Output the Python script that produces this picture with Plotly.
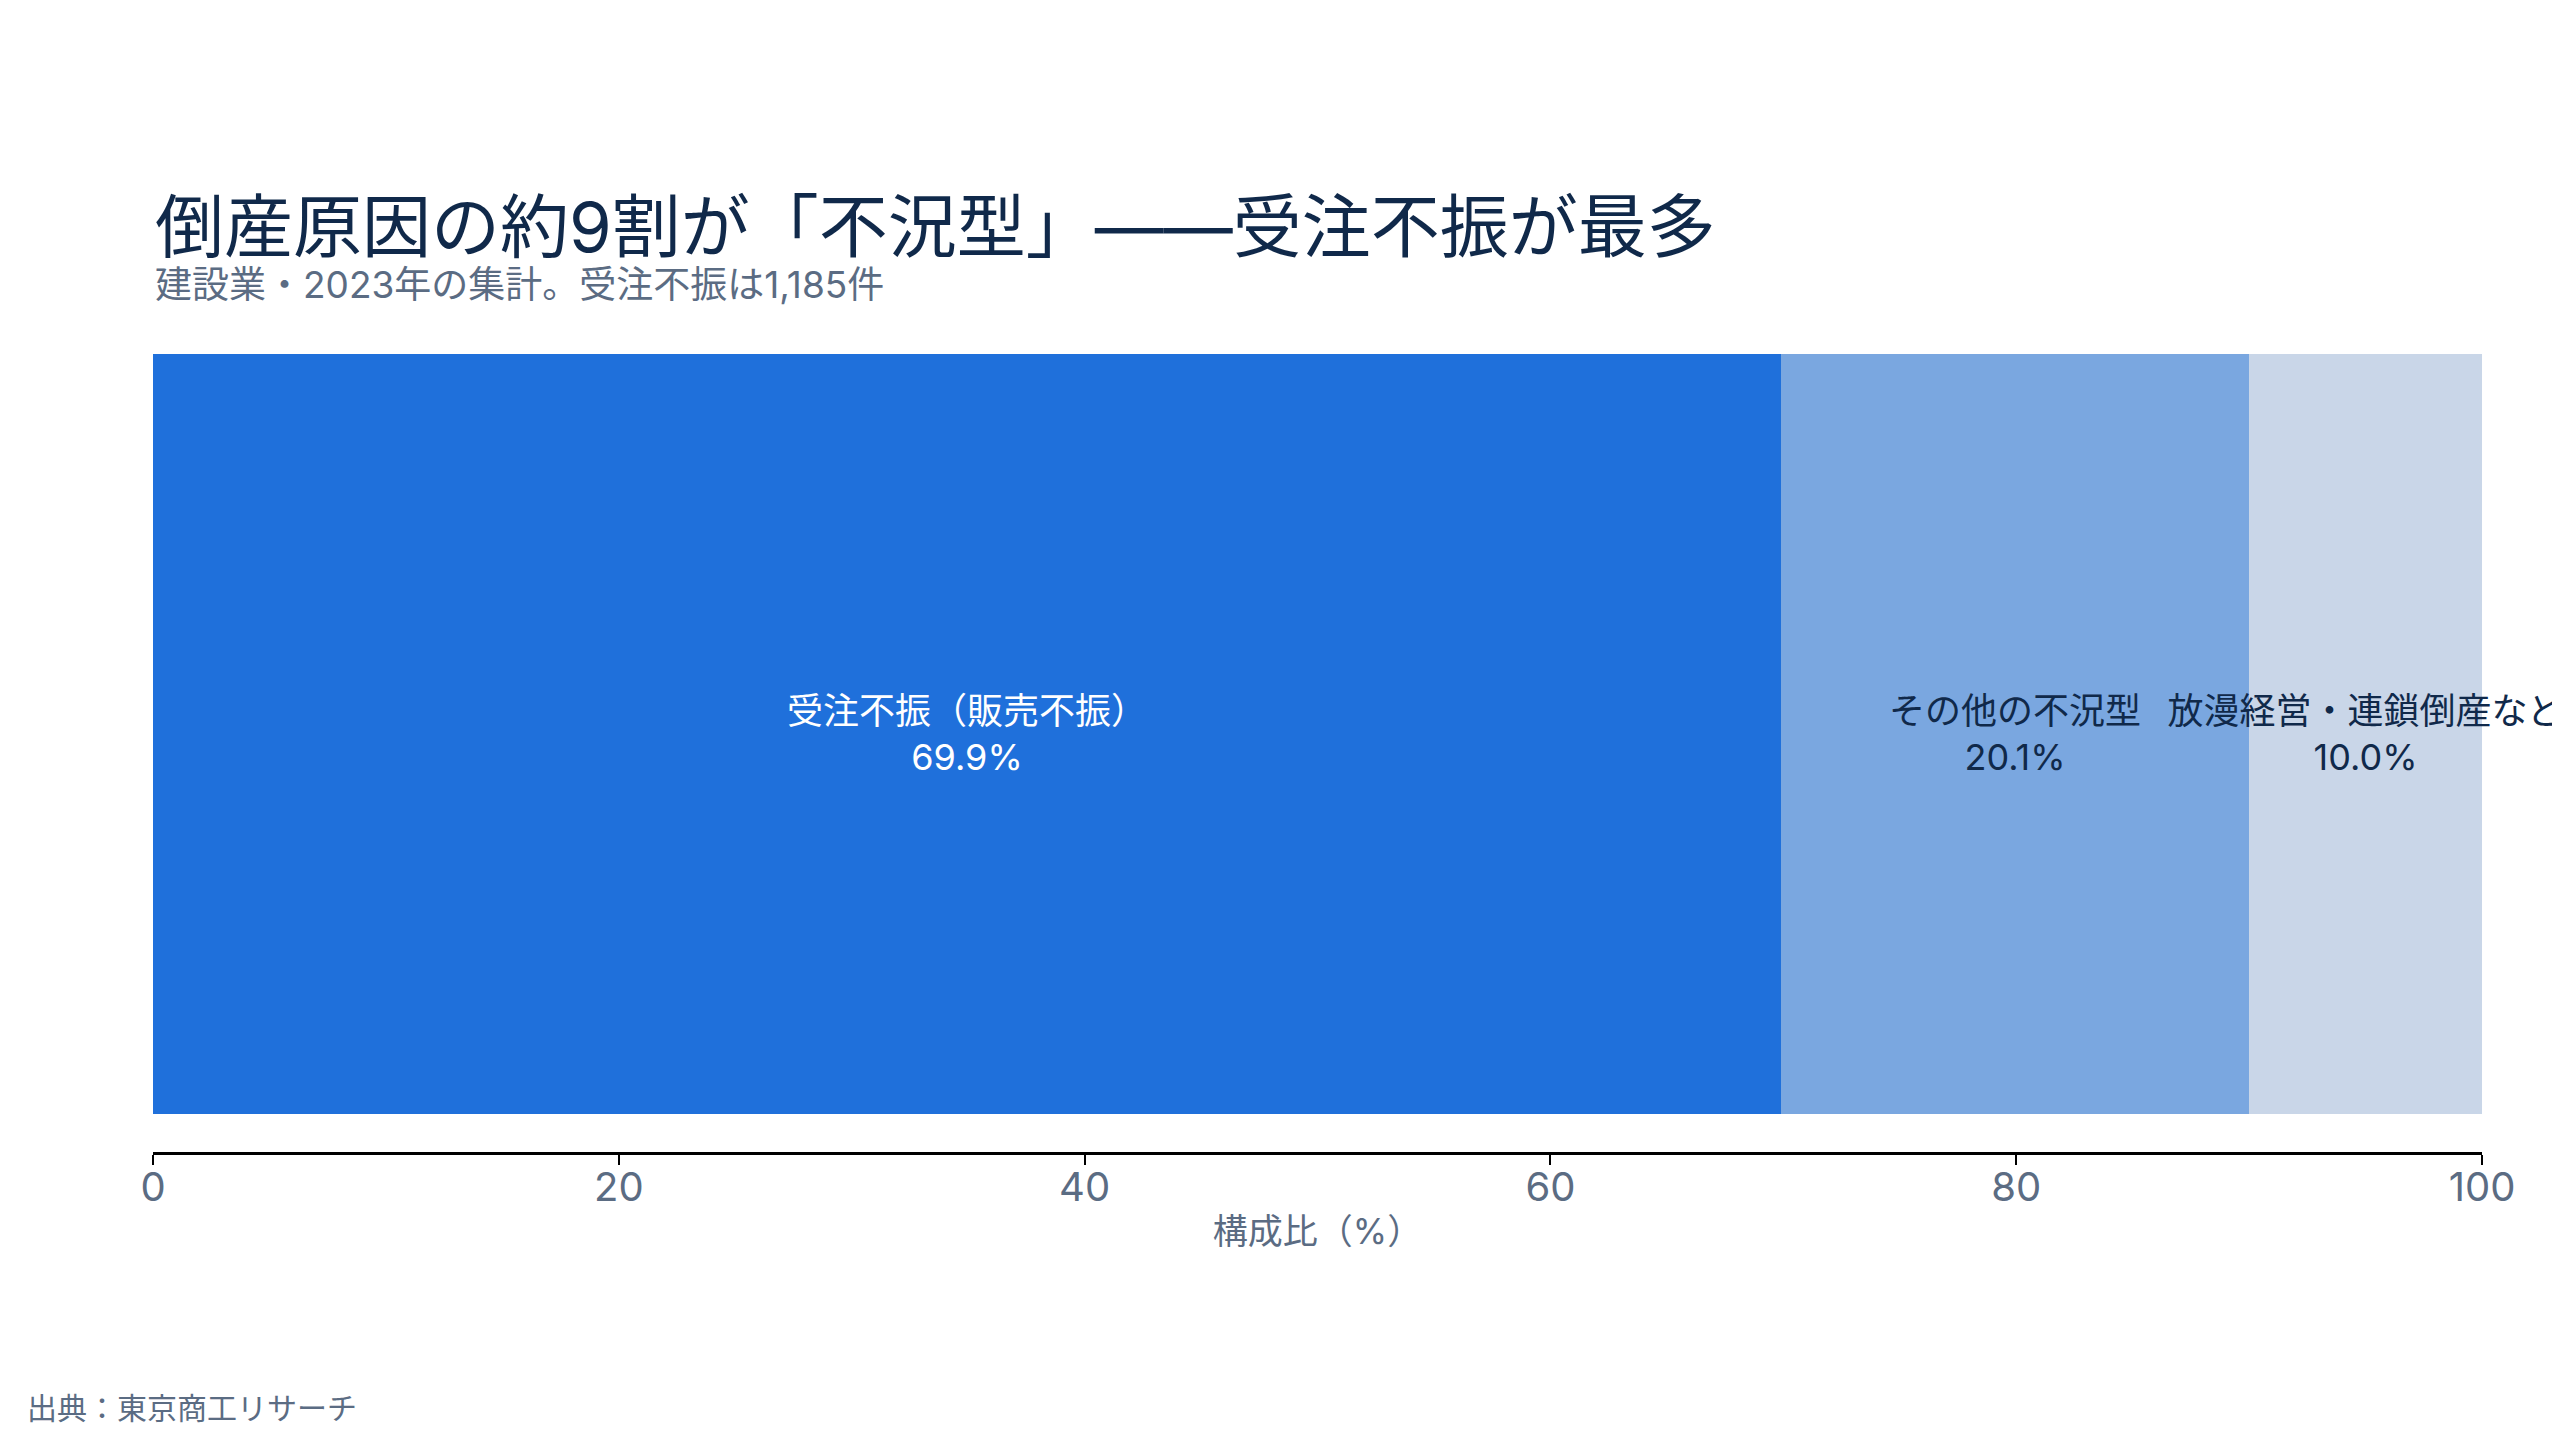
import plotly.graph_objects as go

# 倒産原因の構成比（建設業・2023年）
categories = ['受注不振（販売不振）', 'その他の不況型', '放漫経営・連鎖倒産など']
shares = [69.9, 20.1, 10.0]
bar_colors = ['#1f70db', '#7aa7e0', '#c9d6e8']
label_colors = ['white', '#10294a', '#10294a']
x_ticks = [0, 20, 40, 60, 80, 100]

FONT = 'Inter, Noto Sans CJK JP'
NAVY = '#10294a'
GREY = '#5b6c83'

fig = go.Figure()

for name, share, color, txt_color in zip(categories, shares, bar_colors, label_colors):
    fig.add_trace(go.Bar(
        x=[share],
        y=[''],
        orientation='h',
        name=name,
        marker=dict(color=color, line=dict(width=0)),
        text=[name],
        texttemplate='%{text}<br>%{x:.1f}%',
        textposition='inside',
        insidetextanchor='middle',
        textangle=0,
        constraintext='none',
        insidetextfont=dict(family=FONT, size=36, color=txt_color),
        cliponaxis=False,
        hoverinfo='skip',
    ))

# page body adds an 8px offset, so margins are shifted to match
fig.update_layout(
    barmode='stack',
    bargap=0.09,
    width=2560,
    height=1440,
    margin=dict(l=145, r=86, t=308, b=296),
    paper_bgcolor='white',
    plot_bgcolor='white',
    showlegend=False,
    font=dict(family=FONT, color=GREY),
    title=dict(
        text='倒産原因の約9割が「不況型」——受注不振が最多',
        font=dict(family=FONT, size=69, color=NAVY),
        x=147 / 2560,
        xanchor='left',
        yref='container',
        y=1 - 196 / 1440,
        yanchor='top',
    ),
    xaxis=dict(
        range=[0, 100],
        tickvals=x_ticks,
        showgrid=False,
        zeroline=False,
        showline=True,
        linecolor='black',
        linewidth=2.5,
        ticks='outside',
        ticklen=10,
        tickwidth=2,
        tickcolor='black',
        ticklabelstandoff=-12,
        tickfont=dict(family=FONT, size=40, color=GREY),
        title=dict(text='構成比（%）', font=dict(family=FONT, size=35, color=GREY), standoff=10),
    ),
    yaxis=dict(
        showticklabels=False,
        showgrid=False,
        zeroline=False,
        showline=False,
    ),
    annotations=[
        dict(
            text='建設業・2023年の集計。受注不振は1,185件',
            xref='paper', yref='paper',
            x=0, y=1 + 32 / 836,
            xanchor='left', yanchor='middle',
            showarrow=False,
            font=dict(family=FONT, size=37, color=GREY),
        ),
        dict(
            text='出典：東京商工リサーチ',
            xref='paper', yref='paper',
            x=(25 - 153) / 2329, y=(1152 - 1408) / 836,
            xanchor='left', yanchor='middle',
            showarrow=False,
            font=dict(family=FONT, size=30, color=GREY),
        ),
    ],
)

fig.write_html('out.html')
